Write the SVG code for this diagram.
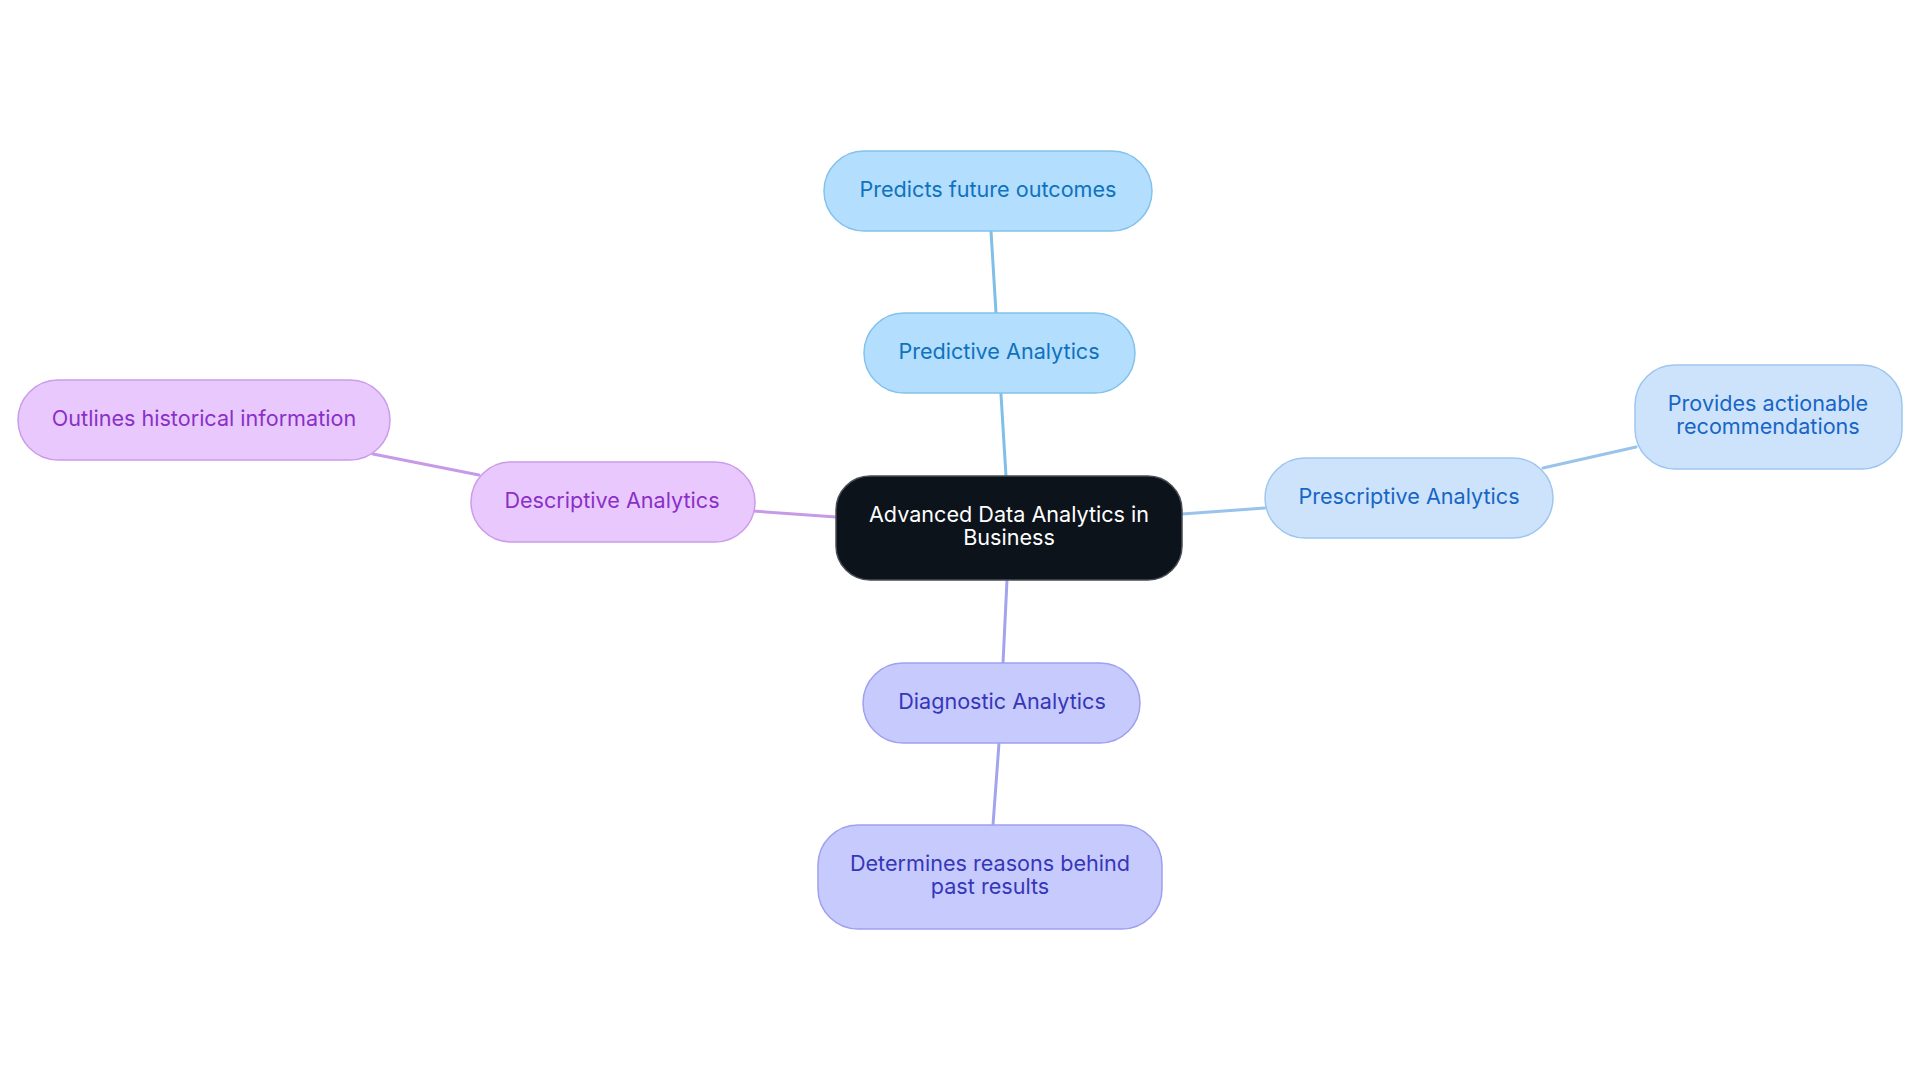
<svg xmlns="http://www.w3.org/2000/svg" width="1920" height="1083" viewBox="0 0 1920 1083">
<style>
text{font-family:Inter,"Open Sans","Liberation Sans",sans-serif;font-size:21.6px;text-anchor:middle}
.edge{fill:none;stroke-width:3;stroke-linecap:round}
.pred rect{fill:#b3defd;stroke:#84c2ec;stroke-width:1.5}
.pred text{fill:#0f72bd}
.pres rect{fill:#cde3fb;stroke:#9ec6ef;stroke-width:1.5}
.pres text{fill:#1766c6}
.desc rect{fill:#e9c9fd;stroke:#cb9ce9;stroke-width:1.5}
.desc text{fill:#8a30c7}
.diag rect{fill:#c7cafd;stroke:#9fa0ee;stroke-width:1.5}
.diag text{fill:#3636b8}
</style>
<rect width="1920" height="1083" fill="#ffffff"/>
<g id="connectors">
<path class="edge" stroke="#7fbfe8" d="M1006,476 L996,313"/>
<path class="edge" stroke="#7fbfe8" d="M996,313 L991,231"/>
<path class="edge" stroke="#99c3ea" d="M1182,514 L1265,508"/>
<path class="edge" stroke="#99c3ea" d="M1543,468 L1636,447"/>
<path class="edge" stroke="#c79ae8" d="M836,517 L753,511"/>
<path class="edge" stroke="#c79ae8" d="M479,475 L373,454"/>
<path class="edge" stroke="#a3a3ee" d="M1007,580 L1003,663"/>
<path class="edge" stroke="#a3a3ee" d="M999,743 L993,825"/>
</g>
<g id="central">
<rect x="836" y="476" width="346" height="104" rx="34" fill="#0c131b" stroke="#4a4f55" stroke-width="1.5"/>
<text x="1009" y="522" fill="#ffffff">Advanced Data Analytics in</text>
<text x="1009" y="545" fill="#ffffff">Business</text>
</g>
<g id="predictive" class="pred">
<rect x="864" y="313" width="271" height="80" rx="40"/>
<text x="999" y="359">Predictive Analytics</text>
</g>
<g id="predicts" class="pred">
<rect x="824" y="151" width="328" height="80" rx="40"/>
<text x="988" y="197">Predicts future outcomes</text>
</g>
<g id="prescriptive" class="pres">
<rect x="1265" y="458" width="288" height="80" rx="40"/>
<text x="1409" y="504">Prescriptive Analytics</text>
</g>
<g id="provides" class="pres">
<rect x="1635" y="365" width="267" height="104" rx="40"/>
<text x="1768" y="411">Provides actionable</text>
<text x="1768" y="434">recommendations</text>
</g>
<g id="descriptive" class="desc">
<rect x="471" y="462" width="284" height="80" rx="40"/>
<text x="612" y="508">Descriptive Analytics</text>
</g>
<g id="outlines" class="desc">
<rect x="18" y="380" width="372" height="80" rx="40"/>
<text x="204" y="426">Outlines historical information</text>
</g>
<g id="diagnostic" class="diag">
<rect x="863" y="663" width="277" height="80" rx="40"/>
<text x="1002" y="709">Diagnostic Analytics</text>
</g>
<g id="determines" class="diag">
<rect x="818" y="825" width="344" height="104" rx="40"/>
<text x="990" y="871">Determines reasons behind</text>
<text x="990" y="894">past results</text>
</g>
</svg>
